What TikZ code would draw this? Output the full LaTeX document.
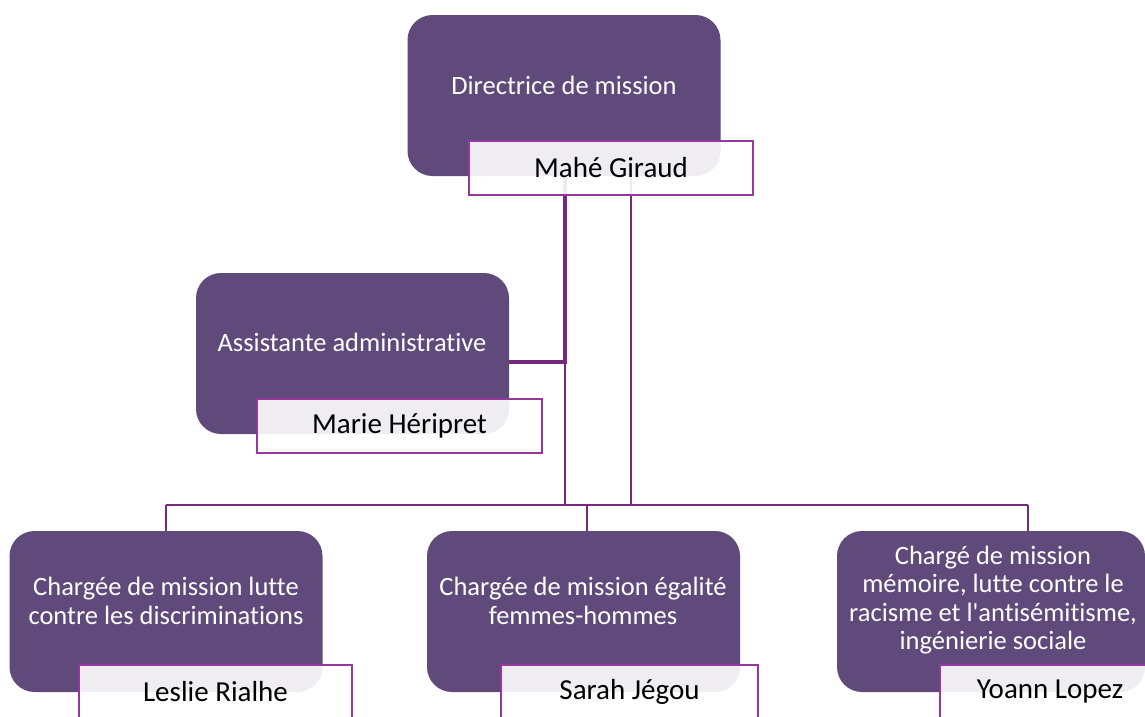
\documentclass[tikz,border=0pt]{standalone}
\usepackage{fontspec}
\setmainfont{Carlito}[Ligatures=NoCommon]
\usepackage{tikz}
\usetikzlibrary{calc}
\definecolor{rolepurple}{RGB}{96,74,123}
\definecolor{namepurple}{RGB}{150,55,158}
\definecolor{linkpurple}{RGB}{122,40,126}

\begin{document}
\begin{tikzpicture}[x=1pt, y=-1pt,
      rolebox/.style={rectangle, rounded corners=25pt, fill=rolepurple, minimum width=313pt, minimum height=161pt, inner sep=0pt},
      roletext/.style={text=white, align=center, inner sep=0pt, font=\fontsize{26.5}{28.5}\selectfont},
      namebox/.style={rectangle, draw=namepurple, line width=2.3pt, fill=white, fill opacity=0.9, text opacity=1, text=black, minimum height=54pt, inner sep=0pt, font=\fontsize{29}{34}\selectfont},
      connector/.style={draw=linkpurple, line width=2.5pt},
      thick connector/.style={connector, line width=4.2pt}
      ]
      \useasboundingbox (0,0) rectangle (1145,716);
      \clip (0,0) rectangle (1145,716);

      % roles
      \node[rolebox] (Dir) at (564,95.5) {};
      \node[roletext] (DirText) at (564,85) {Directrice de mission};

      \node[rolebox] (Asst) at (352.5,353.5) {};
      \node[roletext] (AsstText) at (352,342) {Assistante administrative};

      \node[rolebox] (ChA) at (166,611.5) {};
      \node[roletext] (ChAText) at (166,601) {Chargée de mission lutte\\contre les discriminations};

      \node[rolebox] (ChB) at (583.5,611.5) {};
      \node[roletext] (ChBText) at (583,601) {Chargée de mission égalité\\femmes-hommes};

      \node[rolebox, minimum width=308pt] (ChC) at (991,611.5) {};
      \node[roletext] (ChCText) at (993,600) {Chargé de mission\\mémoire, lutte contre le\\racisme et l\textquotesingle antisémitisme,\\ingénierie sociale};

      % connectors
      \coordinate (DirA) at (565,176);
      \coordinate (DirB) at (631,176);
      \coordinate (AsstR) at (509,362);
      \coordinate (BusW) at (166,505);
      \coordinate (BusM) at (587,505);
      \coordinate (BusE) at (1028,505);

      \draw[connector] (DirA) -- (DirA |- BusW);
      \draw[connector] (DirB) -- (DirB |- BusW);
      \draw[thick connector] (DirA) |- (AsstR);
      \draw[connector] (BusW) -- (BusE);
      \draw[connector] (BusW) -- (BusW |- ChA.north);
      \draw[connector] (BusM) -- (BusM |- ChB.north);
      \draw[connector] (BusE) -- (BusE |- ChC.north);

      % names
      \node[namebox, minimum width=284pt] (DirName) at (611,168) {Mahé Giraud};
      \node[namebox, minimum width=285pt] (AsstName) at (399.5,426) {Marie Héripret};
      \node[namebox, minimum width=273pt] (ChAName) at (215.5,692) {Leslie Rialhe};
      \node[namebox, minimum width=257pt] (ChBName) at (629.5,692) {Sarah Jégou};
      \node[namebox, minimum width=220pt] (ChCName) at (1050,692) {Yoann Lopez};
    \end{tikzpicture}
\end{document}
